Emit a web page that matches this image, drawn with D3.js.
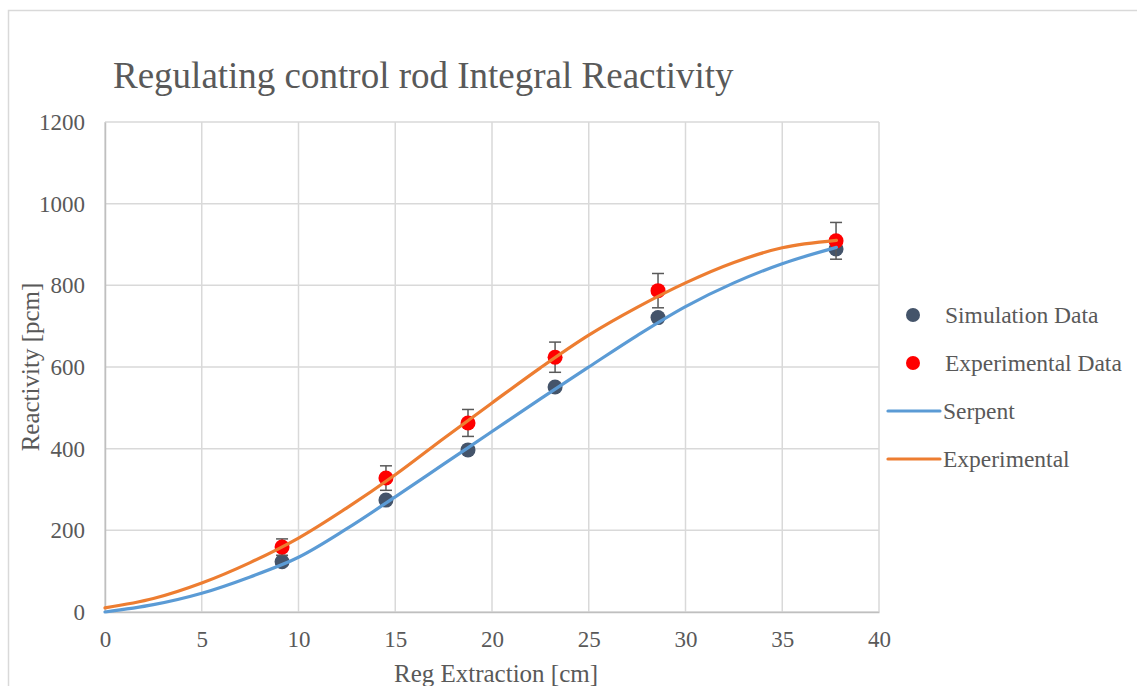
<!DOCTYPE html>
<html>
<head>
<meta charset="utf-8">
<script src="https://cdn.jsdelivr.net/npm/d3@7"></script>
<style>
  body { margin: 0; background: #fff; }
  svg text { font-family: "Liberation Serif", "Times New Roman", serif; fill: #595959; }
</style>
</head>
<body>
<div id="chart"></div>
<script>
// data
var simX = [9.15, 14.52, 18.76, 23.26, 28.58, 37.78];
var simY = [123, 274, 397, 551, 721, 889];
var expX = [9.15, 14.52, 18.76, 23.26, 28.58, 37.78];
var expY = [159, 328, 463, 624, 787, 909];
var expErr = [20, 30, 33, 37, 42, 45];

// fitted curves (read at grid positions)
var curveX = [0, 2.5, 5, 7.5, 10, 12.5, 15, 17.5, 20, 22.5, 25, 27.5, 30, 32.5, 35, 37.8];
var serpentY = [0, 18, 46, 86, 134, 204, 282, 362, 442, 522, 600, 677, 748, 806, 853, 893];
var experimentalY = [10, 33, 71, 121, 181, 255, 336, 425, 512, 598, 678, 746, 806, 856, 892, 910];

var xTicks = [0, 5, 10, 15, 20, 25, 30, 35, 40];
var yTicks = [0, 200, 400, 600, 800, 1000, 1200];

var legendNames = ["Simulation Data", "Experimental Data", "Serpent", "Experimental"];

var svgWidth = 1137;
var svgHeight = 686;

var margin = { top: 122, left: 105 };
var width = 879 - 105;
var height = 612 - 122;

var svg = d3.select("#chart")
  .append("svg")
  .attr("width", svgWidth)
  .attr("height", svgHeight);

// outer frame
svg.append("rect")
  .attr("x", 8.5)
  .attr("y", 10.5)
  .attr("width", 1140)
  .attr("height", 700)
  .attr("fill", "none")
  .attr("stroke", "#d9d9d9")
  .attr("stroke-width", 1.5);

// title
svg.append("text")
  .attr("x", 113)
  .attr("y", 88)
  .style("font-size", "37px")
  .text("Regulating control rod Integral Reactivity");

var chartGroup = svg.append("g")
  .attr("transform", `translate(${margin.left}, ${margin.top})`);

var xScale = d3.scaleLinear().domain([0, 40]).range([0, width]);
var yScale = d3.scaleLinear().domain([0, 1200]).range([height, 0]);

// gridlines
chartGroup.append("g")
  .selectAll("line")
  .data(xTicks)
  .enter()
  .append("line")
  .attr("x1", d => xScale(d))
  .attr("x2", d => xScale(d))
  .attr("y1", 0)
  .attr("y2", height)
  .attr("stroke", "#d9d9d9")
  .attr("stroke-width", 1.5);

chartGroup.append("g")
  .selectAll("line")
  .data(yTicks)
  .enter()
  .append("line")
  .attr("x1", 0)
  .attr("x2", width)
  .attr("y1", d => yScale(d))
  .attr("y2", d => yScale(d))
  .attr("stroke", "#d9d9d9")
  .attr("stroke-width", 1.5);

// axes
var bottomAxis = d3.axisBottom(xScale).tickValues(xTicks).tickFormat(d3.format("d")).tickSize(0).tickPadding(19);
var leftAxis = d3.axisLeft(yScale).tickValues(yTicks).tickFormat(d3.format("d")).tickSize(0).tickPadding(20);

var xAxis = chartGroup.append("g")
  .attr("transform", `translate(0, ${height})`)
  .call(bottomAxis);
xAxis.select(".domain").attr("stroke", "#bfbfbf").attr("stroke-width", 1.5);
xAxis.selectAll("text")
  .style("font-size", "23px")
  .style("fill", "#595959")
  .style("font-family", "'Liberation Serif', 'Times New Roman', serif");

var yAxis = chartGroup.append("g").call(leftAxis);
yAxis.select(".domain").attr("stroke", "#bfbfbf").attr("stroke-width", 1.5);
yAxis.selectAll("text")
  .style("font-size", "23px")
  .style("fill", "#595959")
  .style("font-family", "'Liberation Serif', 'Times New Roman', serif");

// axis titles
chartGroup.append("text")
  .attr("transform", "rotate(-90)")
  .attr("x", -height / 2)
  .attr("y", -66)
  .attr("text-anchor", "middle")
  .style("font-size", "25px")
  .text("Reactivity [pcm]");

chartGroup.append("text")
  .attr("x", width / 2 + 4)
  .attr("y", height + 70)
  .attr("text-anchor", "middle")
  .style("font-size", "25px")
  .text("Reg Extraction [cm]");

var simData = simX.map((x, i) => ({ x: x, y: simY[i] }));
var expData = expX.map((x, i) => ({ x: x, y: expY[i], e: expErr[i] }));

// simulation points
chartGroup.append("g")
  .selectAll("circle")
  .data(simData)
  .enter()
  .append("circle")
  .attr("cx", d => xScale(d.x))
  .attr("cy", d => yScale(d.y))
  .attr("r", 7.5)
  .attr("fill", "#44546A");

// error bars for experimental data
var errGroup = chartGroup.append("g")
  .attr("stroke", "#595959")
  .attr("stroke-width", 1.5);

errGroup.selectAll("line.bar")
  .data(expData)
  .enter()
  .append("line")
  .attr("class", "bar")
  .attr("x1", d => xScale(d.x))
  .attr("x2", d => xScale(d.x))
  .attr("y1", d => yScale(d.y + d.e))
  .attr("y2", d => yScale(d.y - d.e));

errGroup.selectAll("line.top")
  .data(expData)
  .enter()
  .append("line")
  .attr("class", "top")
  .attr("x1", d => xScale(d.x) - 6)
  .attr("x2", d => xScale(d.x) + 6)
  .attr("y1", d => yScale(d.y + d.e))
  .attr("y2", d => yScale(d.y + d.e));

errGroup.selectAll("line.bottom")
  .data(expData)
  .enter()
  .append("line")
  .attr("class", "bottom")
  .attr("x1", d => xScale(d.x) - 6)
  .attr("x2", d => xScale(d.x) + 6)
  .attr("y1", d => yScale(d.y - d.e))
  .attr("y2", d => yScale(d.y - d.e));

// experimental points
chartGroup.append("g")
  .selectAll("circle")
  .data(expData)
  .enter()
  .append("circle")
  .attr("cx", d => xScale(d.x))
  .attr("cy", d => yScale(d.y))
  .attr("r", 7.5)
  .attr("fill", "#FF0000");

// curves
var line = d3.line()
  .x(d => xScale(d[0]))
  .y(d => yScale(d[1]))
  .curve(d3.curveCatmullRom);

chartGroup.append("path")
  .datum(curveX.map((x, i) => [x, serpentY[i]]))
  .attr("d", line)
  .attr("fill", "none")
  .attr("stroke", "#5B9BD5")
  .attr("stroke-width", 3.2)
  .attr("stroke-linecap", "round");

chartGroup.append("path")
  .datum(curveX.map((x, i) => [x, experimentalY[i]]))
  .attr("d", line)
  .attr("fill", "none")
  .attr("stroke", "#ED7D31")
  .attr("stroke-width", 3.2)
  .attr("stroke-linecap", "round");

// legend
var legend = svg.append("g");
var legendY = [315, 363, 411, 459];

legend.append("circle").attr("cx", 913).attr("cy", legendY[0]).attr("r", 7).attr("fill", "#44546A");
legend.append("circle").attr("cx", 913).attr("cy", legendY[1]).attr("r", 7).attr("fill", "#FF0000");
legend.append("line")
  .attr("x1", 888).attr("x2", 940).attr("y1", legendY[2]).attr("y2", legendY[2])
  .attr("stroke", "#5B9BD5").attr("stroke-width", 3.2).attr("stroke-linecap", "round");
legend.append("line")
  .attr("x1", 888).attr("x2", 940).attr("y1", legendY[3]).attr("y2", legendY[3])
  .attr("stroke", "#ED7D31").attr("stroke-width", 3.2).attr("stroke-linecap", "round");

legend.selectAll("text")
  .data(legendNames)
  .enter()
  .append("text")
  .attr("x", (d, i) => i < 2 ? 945 : 943)
  .attr("y", (d, i) => legendY[i] + 8)
  .style("font-size", "23.5px")
  .text(d => d);
</script>
</body>
</html>
